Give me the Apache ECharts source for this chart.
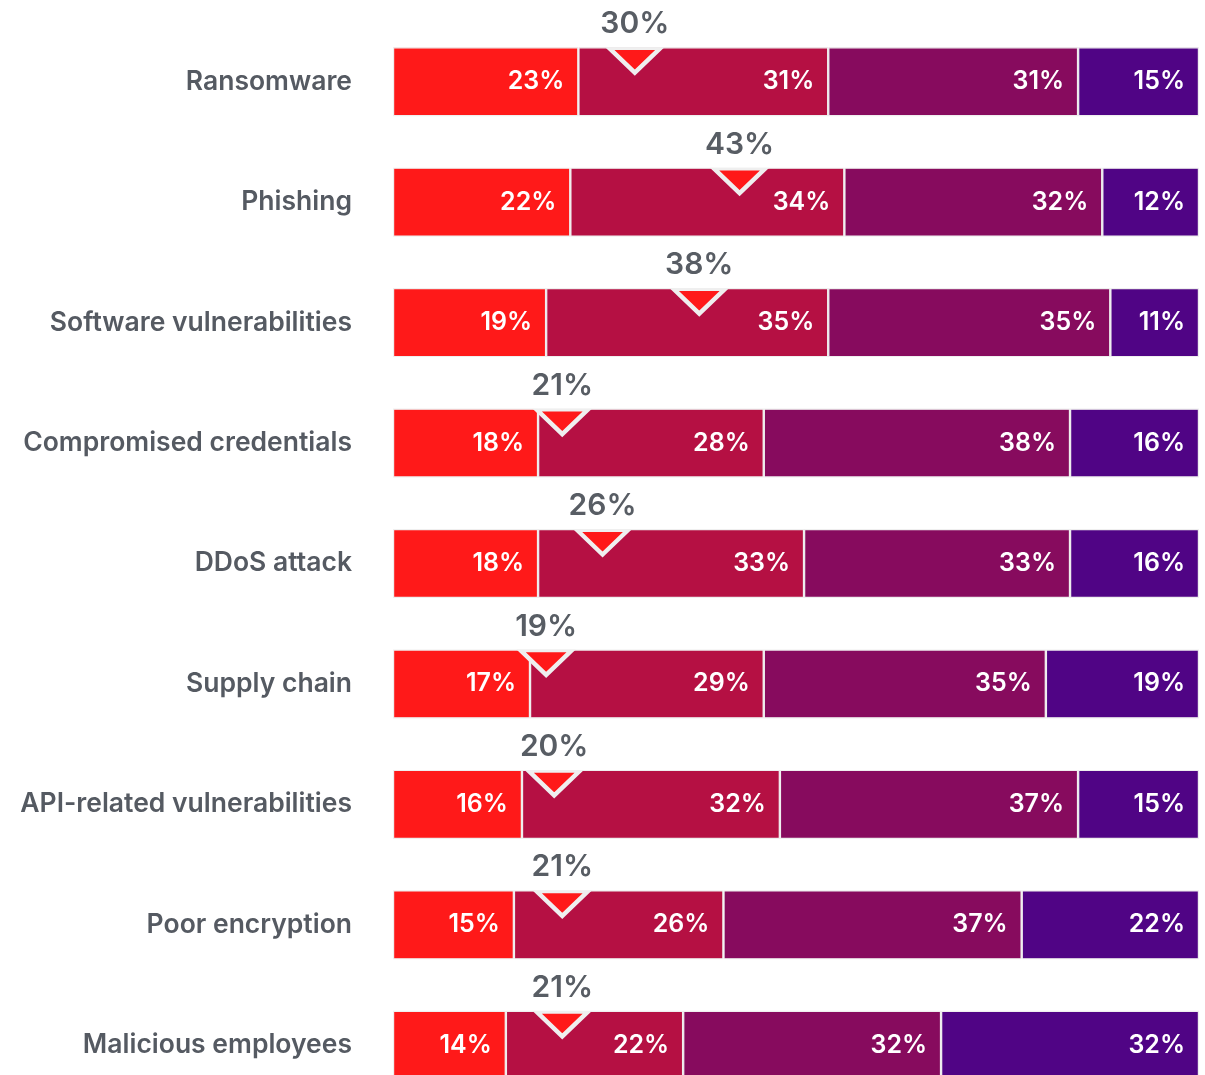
<!DOCTYPE html>
<html>
<head>
<meta charset="utf-8">
<script src="https://cdn.jsdelivr.net/npm/echarts@6/dist/echarts.min.js"></script>
<style>
  html, body { margin: 0; padding: 0; background: #fff; }
  #chart { width: 1205px; height: 1075px; }
</style>
</head>
<body>
<div id="chart"></div>
<script>
// categories top to bottom
var categories = ['Ransomware', 'Phishing', 'Software vulnerabilities', 'Compromised credentials',
  'DDoS attack', 'Supply chain', 'API-related vulnerabilities', 'Poor encryption', 'Malicious employees']
// four stacked shares per row
var seg1 = [23, 22, 19, 18, 18, 17, 16, 15, 14]
var seg2 = [31, 34, 35, 28, 33, 29, 32, 26, 22]
var seg3 = [31, 32, 35, 38, 33, 35, 37, 37, 32]
var seg4 = [15, 12, 11, 16, 16, 19, 15, 22, 32]
// triangle marker values
var markers = [30, 43, 38, 21, 26, 19, 20, 21, 21]

var colors = ['#ff1919', '#b51043', '#870b5e', '#500485']
var font = 'Inter, "Noto Sans", sans-serif'

function barSeries(data, i) {
  return {
    type: 'bar',
    stack: 'all',
    data: data,
    barWidth: 69,
    itemStyle: { color: colors[i], borderColor: '#efefef', borderWidth: 1.2 },
    label: {
      show: true,
      position: 'insideRight',
      distance: 14,
      formatter: '{c}%',
      color: '#ffffff',
      fontSize: 25,
      fontWeight: 600,
      fontFamily: font
    }
  }
}

var series = [seg1, seg2, seg3, seg4].map(barSeries)
series.push({
  type: 'scatter',
  z: 10,
  data: markers.map(function (v, i) { return [v, categories[i]] }),
  symbol: 'triangle',
  symbolRotate: 180,
  symbolSize: [50, 24],
  symbolOffset: [0, -21],
  itemStyle: { color: '#ff1919', borderColor: '#efefef', borderWidth: 4, opacity: 1 },
  label: {
    show: true,
    position: 'top',
    distance: 8,
    formatter: function (p) { return p.value[0] + '%' },
    color: '#585d64',
    fontSize: 30,
    fontWeight: 600,
    fontFamily: font
  }
})

var chart = echarts.init(document.getElementById('chart'))
chart.setOption({
  animation: false,
  grid: { left: 393, right: 6, top: 21.5, height: 1084, outerBoundsMode: 'none', containLabel: false },
  xAxis: { type: 'value', min: 0, max: 100, show: false },
  yAxis: {
    type: 'category',
    data: categories,
    inverse: true,
    axisLine: { show: false },
    axisTick: { show: false },
    axisLabel: {
      margin: 41,
      color: '#555a62',
      fontSize: 26.5,
      fontWeight: 600,
      fontFamily: font
    }
  },
  series: series
})
</script>
</body>
</html>
